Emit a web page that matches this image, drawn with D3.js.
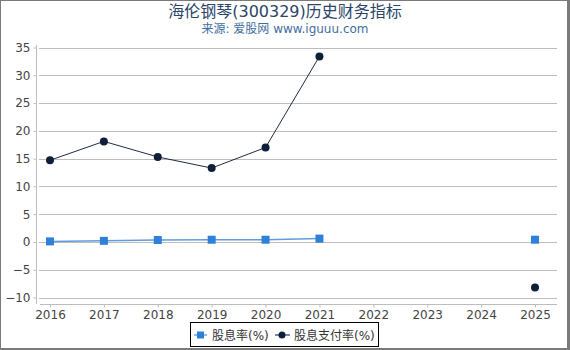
<!DOCTYPE html>
<html>
<head>
<meta charset="utf-8">
<script src="https://cdn.jsdelivr.net/npm/d3@7"></script>
<style>
  body { margin: 0; background: #fff; }
  svg { display: block; font-family: "DejaVu Sans", "Noto Sans CJK SC", sans-serif; }
</style>
</head>
<body>
<div id="chart"></div>
<script>
// chart data
const years = ["2016", "2017", "2018", "2019", "2020", "2021", "2022", "2023", "2024", "2025"];
const yieldRate = [0.1, 0.2, 0.35, 0.4, 0.4, 0.6, null, null, null, 0.4];     // 股息率(%)
const payoutRate = [14.7, 18.1, 15.3, 13.3, 17.0, 33.4, null, null, null, -8.2]; // 股息支付率(%)
const yTicks = [-10, -5, 0, 5, 10, 15, 20, 25, 30, 35];

const width = 570, height = 350;

const svg = d3.select("#chart")
  .append("svg")
  .attr("width", width)
  .attr("height", height);

// outer frame
svg.append("rect").attr("x", 0.5).attr("y", 0.5).attr("width", width - 2.5).attr("height", height - 2)
  .attr("fill", "none").attr("stroke", "#7a7a7a").attr("stroke-width", 1);
svg.append("rect").attr("x", width - 3).attr("y", 0).attr("width", 3).attr("height", height).attr("fill", "#7a7a7a");
svg.append("rect").attr("x", 0).attr("y", height - 2).attr("width", width).attr("height", 2).attr("fill", "#7a7a7a");

// titles
svg.append("text").attr("x", 285).attr("y", 17).attr("text-anchor", "middle")
  .attr("font-size", 16).attr("fill", "#2b4566").text("海伦钢琴(300329)历史财务指标");
svg.append("text").attr("x", 285).attr("y", 33).attr("text-anchor", "middle")
  .attr("font-size", 12).attr("fill", "#3f6e9e").text("来源: 爱股网 www.iguuu.com");

const x = d3.scalePoint().domain(years).range([50, 535]);
const y = d3.scaleLinear().domain([-10, 35]).range([297.5, 47.5]);

// gridlines
svg.append("g").selectAll("line").data(yTicks).enter().append("line")
  .attr("x1", 39).attr("x2", 557)
  .attr("y1", d => Math.round(y(d)) + 0.5).attr("y2", d => Math.round(y(d)) + 0.5)
  .attr("stroke", "#bdbdbd").attr("stroke-width", 1);

// y axis
const yAxis = svg.append("g").attr("transform", "translate(36.5,0)")
  .call(d3.axisLeft(y).tickValues(yTicks).tickSize(3).tickPadding(3).tickFormat(d3.format("d")));
yAxis.select(".domain").attr("stroke", "#bdbdbd").attr("d", "M0,45V304");
yAxis.selectAll(".tick line").attr("stroke", "#bdbdbd");
yAxis.selectAll("text").attr("font-size", 12).attr("fill", "#444").attr("font-family", "DejaVu Sans");

// x axis
const xAxis = svg.append("g").attr("transform", "translate(0,304.5)")
  .call(d3.axisBottom(x).tickSize(3).tickPadding(3));
xAxis.select(".domain").attr("stroke", "#bdbdbd").attr("d", "M40,0H557");
xAxis.selectAll(".tick line").attr("stroke", "#bdbdbd");
xAxis.selectAll("text").attr("font-size", 12).attr("fill", "#444").attr("font-family", "DejaVu Sans");

const line = d3.line()
  .defined(d => d.v !== null)
  .x(d => x(d.year))
  .y(d => y(d.v));

const yieldData = years.map((yr, i) => ({ year: yr, v: yieldRate[i] }));
const payoutData = years.map((yr, i) => ({ year: yr, v: payoutRate[i] }));

// 股息率 series
svg.append("path").datum(yieldData).attr("d", line)
  .attr("fill", "none").attr("stroke", "#5f9be0").attr("stroke-width", 1.5);
svg.selectAll(".sq").data(yieldData.filter(d => d.v !== null)).enter().append("rect")
  .attr("class", "sq")
  .attr("x", d => x(d.year) - 4).attr("y", d => y(d.v) - 4)
  .attr("width", 8).attr("height", 8)
  .attr("fill", "#2f80d9");

// 股息支付率 series
svg.append("path").datum(payoutData).attr("d", line)
  .attr("fill", "none").attr("stroke", "#1d2b45").attr("stroke-width", 1);
svg.selectAll(".dot").data(payoutData.filter(d => d.v !== null)).enter().append("circle")
  .attr("class", "dot")
  .attr("cx", d => x(d.year)).attr("cy", d => y(d.v))
  .attr("r", 4)
  .attr("fill", "#0f1f3a");

// legend
const lg = svg.append("g");
lg.append("rect").attr("x", 190.5).attr("y", 322.5).attr("width", 188).attr("height", 24)
  .attr("fill", "#fff").attr("stroke", "#000").attr("stroke-width", 1);
lg.append("line").attr("x1", 194).attr("x2", 207).attr("y1", 335).attr("y2", 335)
  .attr("stroke", "#8fbbe9").attr("stroke-width", 2);
lg.append("rect").attr("x", 197).attr("y", 331.5).attr("width", 7).attr("height", 7).attr("fill", "#2f80d9");
lg.append("text").attr("x", 212).attr("y", 339.5).attr("font-size", 12).attr("fill", "#333").text("股息率(%)");
lg.append("line").attr("x1", 275).attr("x2", 290).attr("y1", 335).attr("y2", 335)
  .attr("stroke", "#55627a").attr("stroke-width", 1.5);
lg.append("circle").attr("cx", 282).attr("cy", 335).attr("r", 3.5).attr("fill", "#0f1f3a");
lg.append("text").attr("x", 294).attr("y", 339.5).attr("font-size", 12).attr("fill", "#333").text("股息支付率(%)");
</script>
</body>
</html>
